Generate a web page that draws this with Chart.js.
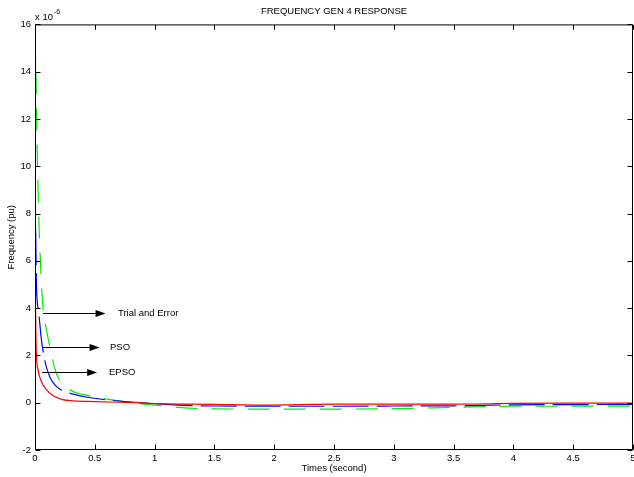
<!DOCTYPE html>
<html><head><meta charset="utf-8">
<script src="https://cdn.jsdelivr.net/npm/chart.js@4.4.0/dist/chart.umd.min.js"></script>
<style>html,body{margin:0;padding:0;background:#fff;}</style>
</head><body>
<canvas id="c" width="634" height="477"></canvas>
<script>
// ---- data (frequency in units of 1e-6 pu, time in seconds) ----
const tTrial = [0, 0.005, 0.01, 0.018, 0.03, 0.05, 0.067, 0.095, 0.123, 0.16, 0.2, 0.25, 0.32, 0.4, 0.55, 0.7, 0.85, 1.0, 1.2, 1.4, 2.0, 2.5, 3.0, 3.5, 4.0, 4.5, 5.0];
const fTrial = [0, 14.6, 13.3, 10.8, 8.2, 5.4, 4.0, 3.1, 2.4, 1.55, 1.0, 0.7, 0.47, 0.35, 0.2, 0.08, -0.02, -0.1, -0.2, -0.25, -0.27, -0.27, -0.25, -0.2, -0.15, -0.15, -0.14];
const tPSO = [0, 0.004, 0.012, 0.017, 0.033, 0.053, 0.081, 0.123, 0.178, 0.26, 0.32, 0.45, 0.6, 0.8, 1.0, 1.2, 1.5, 2.0, 2.5, 3.0, 3.5, 4.0, 4.5, 5.0];
const fPSO = [0, 7.4, 5.0, 4.4, 3.7, 2.7, 1.8, 1.1, 0.69, 0.46, 0.36, 0.22, 0.12, 0.03, -0.04, -0.1, -0.14, -0.15, -0.15, -0.14, -0.13, -0.09, -0.08, -0.07];
const tEPSO = [0, 0.004, 0.007, 0.011, 0.025, 0.053, 0.095, 0.15, 0.23, 0.32, 0.5, 0.7, 0.85, 1.0, 1.5, 1.9, 2.2, 2.5, 3.0, 3.5, 4.0, 4.5, 5.0];
const fEPSO = [0, 4.2, 3.0, 2.1, 1.4, 0.9, 0.55, 0.3, 0.13, 0.08, 0.05, 0.02, 0.0, -0.04, -0.07, -0.1, -0.08, -0.06, -0.06, -0.06, -0.03, -0.02, -0.02];
const xTicks = [0, 0.5, 1, 1.5, 2, 2.5, 3, 3.5, 4, 4.5, 5];
const yTicks = [-2, 0, 2, 4, 6, 8, 10, 12, 14, 16];
const seriesNames = ['EPSO', 'PSO', 'Trial and Error'];
// annotation arrows (data coordinates)
const arrowText = ['Trial and Error', 'PSO', 'EPSO'];
const arrowY = [3.8, 2.37, 1.31];
const arrowX0 = [0.067, 0.059, 0.059];
const arrowX1 = [0.59, 0.54, 0.52];
const arrowTextX = [0.694, 0.627, 0.619];

const FONT = 'Liberation Sans, Arial, sans-serif';
const zip = (t, f) => t.map((v, i) => ({x: v, y: f[i]}));

const framePlugin = {
  id: 'frame',
  afterDraw(chart) {
    const {ctx, chartArea: a, scales: {x, y}} = chart;
    ctx.save();
    ctx.strokeStyle = '#000';
    ctx.lineWidth = 1;
    const L = a.left + 0.5, R = a.right - 0.5, T = a.top + 0.5, B = a.bottom - 0.5;
    ctx.strokeRect(L, T, R - L, B - T);
    const tl = 5;
    ctx.beginPath();
    xTicks.forEach(v => {
      const px = Math.round(x.getPixelForValue(v)) + 0.5;
      ctx.moveTo(px, B); ctx.lineTo(px, B - tl);
      ctx.moveTo(px, T); ctx.lineTo(px, T + tl);
    });
    yTicks.forEach(v => {
      const py = Math.round(y.getPixelForValue(v)) + 0.5;
      ctx.moveTo(L, py); ctx.lineTo(L + tl, py);
      ctx.moveTo(R, py); ctx.lineTo(R - tl, py);
    });
    ctx.stroke();
    // exponent label
    ctx.fillStyle = '#000';
    ctx.textBaseline = 'alphabetic';
    ctx.textAlign = 'left';
    ctx.font = '9.5px ' + FONT;
    ctx.fillText('x 10', a.left, 20);
    const w = ctx.measureText('x 10').width;
    ctx.font = '7px ' + FONT;
    ctx.fillText('-6', a.left + w + 1, 14);
    // arrows
    ctx.font = '9.5px ' + FONT;
    ctx.textBaseline = 'middle';
    arrowText.forEach((txt, i) => {
      const py = Math.round(y.getPixelForValue(arrowY[i])) + 0.5;
      const x0 = x.getPixelForValue(arrowX0[i]);
      const x1 = x.getPixelForValue(arrowX1[i]);
      ctx.beginPath();
      ctx.moveTo(x0, py); ctx.lineTo(x1 - 8, py);
      ctx.stroke();
      ctx.beginPath();
      ctx.moveTo(x1, py); ctx.lineTo(x1 - 10, py - 3.5); ctx.lineTo(x1 - 10, py + 3.5);
      ctx.closePath(); ctx.fill();
      ctx.fillText(txt, x.getPixelForValue(arrowTextX[i]), py);
    });
    ctx.restore();
  }
};

new Chart(document.getElementById('c'), {
  type: 'line',
  data: {
    datasets: [
      {label: seriesNames[0], data: zip(tEPSO, fEPSO), borderColor: '#ff0000', borderWidth: 1.2},
      {label: seriesNames[1], data: zip(tPSO, fPSO), borderColor: '#0000ff', borderWidth: 1.2, borderDash: [36, 8]},
      {label: seriesNames[2], data: zip(tTrial, fTrial), borderColor: '#00ee00', borderWidth: 1.2, borderDash: [22, 14]}
    ]
  },
  options: {
    responsive: false,
    animation: false,
    devicePixelRatio: 1,
    elements: {point: {radius: 0}, line: {cubicInterpolationMode: 'monotone', fill: false}},
    layout: {padding: {left: 0, right: 1, top: 0, bottom: 0}},
    plugins: {
      legend: {display: false},
      tooltip: {enabled: false},
      title: {
        display: true, text: 'FREQUENCY GEN 4 RESPONSE', fullSize: false,
        color: '#000', font: {family: FONT, size: 9.5, weight: 'normal'},
        padding: {top: 6, bottom: 7}
      }
    },
    scales: {
      x: {
        type: 'linear', min: 0, max: 5,
        grid: {display: false, drawTicks: false}, border: {display: false},
        ticks: {stepSize: 0.5, color: '#000', padding: 3, maxRotation: 0, autoSkip: false,
          font: {family: FONT, size: 9.5}, callback: v => String(+v.toFixed(2))},
        title: {display: true, text: 'Times (second)', color: '#000',
          font: {family: FONT, size: 9.5}, padding: {top: 0, bottom: 3}},
        afterFit: s => { s.height = 27; s.paddingLeft = 0; s.paddingRight = 0; }
      },
      y: {
        type: 'linear', min: -2, max: 16,
        grid: {display: false, drawTicks: false}, border: {display: false},
        ticks: {stepSize: 2, color: '#000', padding: 4,
          font: {family: FONT, size: 9.5}, callback: v => String(v)},
        title: {display: true, text: 'Frequency (pu)', color: '#000',
          font: {family: FONT, size: 9.5}, padding: {top: 6, bottom: 0}},
        afterFit: s => { s.width = 35; s.paddingTop = 0; s.paddingBottom = 0; }
      }
    }
  },
  plugins: [framePlugin]
});
</script>
</body></html>
